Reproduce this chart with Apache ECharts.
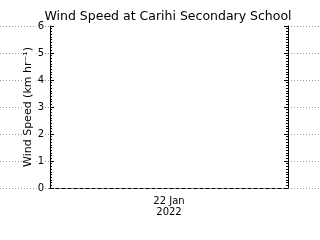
<!DOCTYPE html>
<html>
<head>
<meta charset="utf-8">
<script src="https://cdn.jsdelivr.net/npm/echarts@6/dist/echarts.min.js"></script>
<style>html,body{margin:0;padding:0;background:#fff;}#c{width:320px;height:240px;}</style>
</head>
<body>
<div id="c"></div>
<script>
var titleText = 'Wind Speed at Carihi Secondary School';
var yAxisName = 'Wind Speed (km hr\u207B\u00B9)';
var categories = ['22 Jan\n2022'];
var windSpeed = [];
var yMin = 0, yMax = 6, yInterval = 1;

var font = 'DejaVu Sans';
var chart = echarts.init(document.getElementById('c'), null, {renderer: 'canvas'});
var yCommon = {
  min: yMin, max: yMax, interval: yInterval
};
chart.setOption({
  animation: false,
  backgroundColor: '#fff',
  title: {
    text: titleText, left: 163, top: 5, textAlign: 'center',
    textStyle: {fontFamily: font, fontSize: 12.5, fontWeight: 'normal', color: '#000'}
  },
  grid: [
    {left: 0, right: 0, top: 26, bottom: 52, show: false},
    {left: 50, right: 32, top: 26, bottom: 52, show: true, backgroundColor: '#fff', borderWidth: 0, z: 3}
  ],
  xAxis: [
    {gridIndex: 0, type: 'category', data: categories, show: false},
    {gridIndex: 1, type: 'category', data: categories, position: 'bottom', z: 5,
      axisLine: {lineStyle: {color: '#000', width: 1, type: [3, 3]}},
      axisTick: {show: false},
      axisLabel: {fontFamily: font, fontSize: 10, color: '#000', lineHeight: 11, margin: 8},
      splitLine: {show: false}},
    {gridIndex: 1, type: 'category', data: categories, position: 'top', z: 5,
      axisLine: {lineStyle: {color: '#000', width: 1, type: [3, 3]}},
      axisTick: {show: false}, axisLabel: {show: false}, splitLine: {show: false}}
  ],
  yAxis: [
    Object.assign({gridIndex: 0, type: 'value', z: 0,
      axisLine: {show: false}, axisTick: {show: false}, axisLabel: {show: false},
      splitLine: {show: true, lineStyle: {color: '#999', width: 1, type: [1, 2]}}}, yCommon),
    Object.assign({gridIndex: 1, type: 'value', position: 'left', z: 5,
      axisLine: {show: true, lineStyle: {color: '#000', width: 1}},
      axisTick: {show: true, inside: true, length: 4, lineStyle: {color: '#000'}},
      minorTick: {show: true, splitNumber: 10, length: 2, lineStyle: {color: '#000'}},
      axisLabel: {fontFamily: font, fontSize: 10, color: '#000', margin: 5, backgroundColor: '#fff', padding: [0, 1, 0, 1]},
      splitLine: {show: false},
      name: yAxisName, nameLocation: 'middle', nameGap: 16, nameRotate: 90, nameMoveOverlap: false,
      nameTextStyle: {fontFamily: font, fontSize: 11, color: '#000', backgroundColor: '#fff'}}, yCommon),
    Object.assign({gridIndex: 1, type: 'value', position: 'right', z: 5,
      axisLine: {show: true, lineStyle: {color: '#000', width: 1}},
      axisTick: {show: true, inside: true, length: 4, lineStyle: {color: '#000'}},
      minorTick: {show: true, splitNumber: 10, length: 2, lineStyle: {color: '#000'}},
      axisLabel: {show: false}, splitLine: {show: false}}, yCommon)
  ],
  series: [{
    type: 'line', xAxisIndex: 1, yAxisIndex: 1, data: windSpeed,
    lineStyle: {color: '#000', width: 1}, symbol: 'none', z: 6
  }]
});
</script>
</body>
</html>
